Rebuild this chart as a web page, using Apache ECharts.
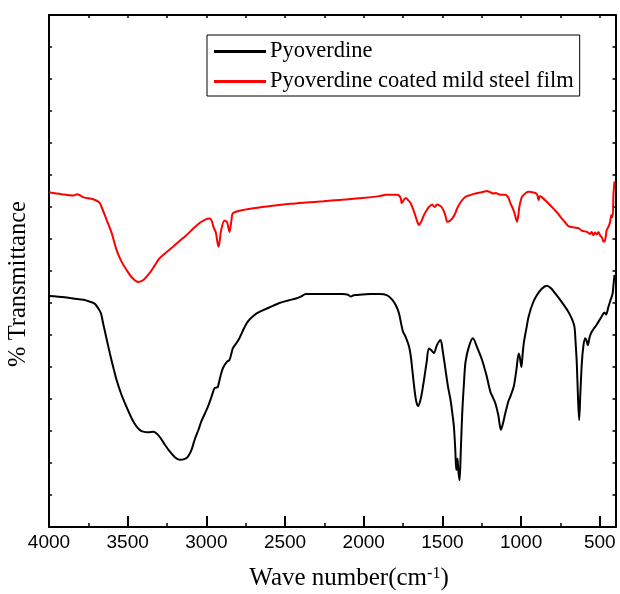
<!DOCTYPE html>
<html>
<head>
<meta charset="utf-8">
<script src="https://cdn.jsdelivr.net/npm/echarts@6/dist/echarts.min.js"></script>
<style>
  html, body { margin: 0; padding: 0; background: #fff; }
  #chart { width: 620px; height: 594px; }
</style>
</head>
<body>
<div id="chart"></div>
<script>
// FTIR spectra: wavenumber (cm-1) vs % transmittance (arbitrary offset units)
const seriesNames = ['Pyoverdine', 'Pyoverdine coated mild steel film'];

const waveBlack = [4000, 3900, 3846, 3780, 3740, 3710, 3688, 3670, 3656, 3635, 3613, 3590, 3571, 3540, 3508, 3475, 3444, 3420, 3402, 3370, 3339, 3320, 3297, 3265, 3233, 3200, 3170, 3140, 3117, 3095, 3075, 3050, 3032, 3010, 2990, 2968, 2948, 2935, 2927, 2910, 2895, 2870, 2853, 2840, 2832, 2810, 2790, 2760, 2737, 2700, 2663, 2600, 2536, 2480, 2431, 2400, 2367, 2300, 2219, 2135, 2100, 2082, 2065, 2050, 1960, 1902, 1850, 1818, 1795, 1776, 1760, 1750, 1735, 1712, 1700, 1691, 1675, 1665, 1653, 1640, 1630, 1617, 1600, 1586, 1570, 1554, 1535, 1512, 1498, 1480, 1465, 1448, 1437, 1427, 1418, 1412, 1408, 1404, 1398, 1391, 1383, 1374, 1363, 1353, 1330, 1306, 1280, 1248, 1220, 1195, 1180, 1163, 1145, 1128, 1115, 1100, 1080, 1068, 1047, 1030, 1015, 1008, 998, 990, 983, 965, 952, 925, 899, 870, 836, 810, 783, 740, 699, 675, 661, 654, 646, 638, 631, 624, 614, 604, 593, 585, 576, 565, 551, 520, 488, 470, 460, 445, 435, 424, 418, 413, 406];
const transBlack = [36.1, 35.9, 35.7, 35.5, 35.2, 34.9, 34.2, 33.4, 31.8, 29.5, 27.1, 24.8, 23.0, 20.7, 18.8, 17.0, 15.7, 15.1, 14.9, 14.8, 14.9, 14.7, 14.1, 12.9, 11.8, 10.9, 10.5, 10.6, 11.0, 12.0, 13.6, 15.2, 16.5, 17.7, 18.8, 20.3, 21.7, 21.8, 21.9, 23.6, 24.8, 25.8, 26.1, 27.2, 27.9, 28.7, 29.5, 31.1, 32.1, 33.0, 33.6, 34.3, 35.0, 35.4, 35.7, 36.0, 36.4, 36.4, 36.4, 36.4, 36.3, 36.0, 36.2, 36.25, 36.4, 36.4, 36.2, 35.5, 34.6, 33.4, 31.5, 30.5, 29.8, 28.2, 26.5, 24.5, 21.0, 19.5, 18.9, 19.8, 21.0, 23.0, 25.8, 27.9, 27.6, 27.2, 28.4, 29.2, 27.5, 24.5, 22.0, 19.8, 17.8, 15.7, 12.0, 8.9, 9.5, 10.7, 8.6, 7.3, 12.0, 17.8, 22.5, 25.8, 28.3, 29.5, 28.1, 26.1, 23.7, 21.1, 20.3, 19.3, 17.5, 15.2, 16.2, 17.8, 19.7, 20.4, 21.9, 24.5, 27.1, 26.5, 25.0, 27.0, 28.7, 31.2, 32.9, 35.0, 36.25, 37.2, 37.7, 37.3, 36.5, 35.1, 33.6, 32.4, 31.3, 29.0, 25.6, 20.0, 16.7, 20.5, 25.6, 28.3, 29.5, 29.2, 28.4, 29.6, 30.5, 31.6, 32.9, 33.5, 33.2, 34.4, 35.2, 36.0, 36.5, 37.8, 39.4];

const waveRed = [4000, 3920, 3846, 3820, 3780, 3719, 3680, 3666, 3634, 3600, 3571, 3540, 3508, 3470, 3434, 3400, 3360, 3330, 3297, 3250, 3212, 3170, 3127, 3085, 3043, 3010, 2980, 2965, 2955, 2940, 2923, 2905, 2885, 2868, 2853, 2840, 2832, 2790, 2700, 2579, 2467, 2367, 2256, 2156, 2008, 1900, 1860, 1786, 1765, 1759, 1745, 1733, 1715, 1702, 1685, 1670, 1655, 1649, 1635, 1617, 1600, 1586, 1565, 1555, 1548, 1535, 1522, 1505, 1490, 1478, 1470, 1455, 1438, 1420, 1406, 1380, 1353, 1320, 1290, 1250, 1216, 1195, 1174, 1160, 1142, 1120, 1100, 1080, 1068, 1055, 1041, 1033, 1026, 1018, 1011, 1002, 994, 970, 952, 930, 910, 897, 889, 880, 867, 840, 804, 770, 741, 720, 699, 660, 635, 614, 580, 560, 552, 540, 530, 519, 508, 497, 485, 477, 470, 462, 456, 445, 434, 426, 418, 413, 406];
const transRed = [52.3, 52.0, 51.8, 52.0, 51.5, 51.2, 50.7, 50.0, 48.0, 45.8, 43.3, 41.5, 40.2, 38.9, 38.3, 38.6, 39.7, 40.8, 42.0, 43.0, 43.8, 44.7, 45.6, 46.6, 47.5, 48.0, 48.2, 47.8, 46.9, 46.0, 43.8, 46.5, 47.9, 47.6, 46.1, 48.0, 49.0, 49.4, 49.8, 50.2, 50.5, 50.7, 50.9, 51.1, 51.4, 51.7, 51.9, 51.9, 51.4, 50.6, 51.1, 51.4, 51.0, 50.6, 49.6, 48.5, 47.4, 47.2, 47.7, 48.75, 49.5, 50.0, 50.4, 50.1, 50.0, 50.4, 50.3, 50.0, 49.3, 48.4, 47.7, 47.8, 48.2, 48.9, 49.8, 50.9, 51.6, 51.9, 52.1, 52.3, 52.5, 52.3, 52.1, 52.2, 52.0, 51.9, 51.9, 51.4, 50.6, 49.9, 49.0, 48.2, 47.7, 48.6, 50.0, 51.0, 51.6, 52.2, 52.4, 52.3, 52.2, 51.9, 51.1, 51.7, 51.5, 50.9, 50.0, 49.1, 48.2, 47.6, 47.0, 46.8, 46.7, 46.3, 46.1, 45.8, 46.1, 45.6, 46.0, 45.7, 46.1, 45.5, 45.2, 44.6, 44.6, 45.4, 46.4, 46.9, 47.7, 48.75, 48.4, 52.0, 54.0];

const majorTicks = [4000, 3500, 3000, 2500, 2000, 1500, 1000, 500];
const minorTicks = [3750, 3250, 2750, 2250, 1750, 1250, 750];
const allTicks = [4000, 3750, 3500, 3250, 3000, 2750, 2500, 2250, 2000, 1750, 1500, 1250, 1000, 750, 500];

const xTitle = 'Wave number(cm{sup|-1})';
const yTitle = '% Transmittance';

const pairs = (xs, ys) => xs.map((x, i) => [x, ys[i]]);

const chart = echarts.init(document.getElementById('chart'), null, { renderer: 'canvas' });

const axisLineStyle = { color: '#000', width: 2 };
const baseX = { type: 'value', min: 400, max: 4000, inverse: true, splitLine: { show: false } };
const baseY = {
  type: 'value', min: 0, max: 80, interval: 5,
  axisLine: { show: true, lineStyle: axisLineStyle },
  axisTick: { show: true, inside: true, length: 3, lineStyle: { color: '#000', width: 1.5 } },
  axisLabel: { show: false },
  splitLine: { show: false }
};

chart.setOption({
  animation: false,
  backgroundColor: '#fff',
  grid: { left: 49, right: 4.5, top: 15, bottom: 67, containLabel: false },
  legend: {
    data: seriesNames,
    orient: 'vertical',
    left: 207, top: 35,
    padding: [5, 6, 3, 7],
    itemGap: 7,
    itemWidth: 52,
    itemHeight: 3,
    icon: 'rect',
    borderColor: '#000',
    borderWidth: 1,
    textStyle: { fontFamily: 'Liberation Serif', fontSize: 22.5, color: '#000', padding: [0, 0, 0, -1] }
  },
  xAxis: [
    Object.assign({}, baseX, {
      position: 'bottom',
      axisLine: { show: true, onZero: false, lineStyle: axisLineStyle },
      axisTick: { show: true, inside: true, length: 11, customValues: majorTicks, lineStyle: { color: '#000', width: 2 } },
      axisLabel: {
        show: true, customValues: majorTicks, margin: 6,
        formatter: (v) => String(v),
        fontFamily: 'Liberation Sans', fontSize: 19, color: '#000'
      }
    }),
    Object.assign({}, baseX, {
      position: 'bottom',
      axisLine: { show: false, onZero: false },
      axisTick: { show: true, inside: true, length: 4, customValues: minorTicks, lineStyle: { color: '#000', width: 1.5 } },
      axisLabel: { show: false }
    }),
    Object.assign({}, baseX, {
      position: 'top',
      axisLine: { show: true, onZero: false, lineStyle: axisLineStyle },
      axisTick: { show: true, inside: true, length: 3, customValues: allTicks, lineStyle: { color: '#000', width: 1.5 } },
      axisLabel: { show: false }
    })
  ],
  yAxis: [
    Object.assign({}, baseY, { position: 'left' }),
    Object.assign({}, baseY, { position: 'right' })
  ],
  graphic: [
    {
      type: 'text',
      x: 349, y: 578,
      style: {
        text: xTitle,
        align: 'center',
        verticalAlign: 'middle',
        fontFamily: 'Liberation Serif',
        fontSize: 25,
        fill: '#000',
        rich: {
          sup: { fontFamily: 'Liberation Serif', fontSize: 16, verticalAlign: 'top', fill: '#000' }
        }
      }
    },
    {
      type: 'text',
      x: 19, y: 284,
      rotation: Math.PI / 2,
      style: {
        text: yTitle,
        align: 'center',
        verticalAlign: 'middle',
        fontFamily: 'Liberation Serif',
        fontSize: 24.5,
        fill: '#000'
      }
    }
  ],
  series: [
    {
      name: seriesNames[0], type: 'line', xAxisIndex: 0, yAxisIndex: 0,
      data: pairs(waveBlack, transBlack),
      showSymbol: false, symbol: 'none', smooth: 0.3,
      lineStyle: { color: '#000', width: 2 }, itemStyle: { color: '#000' }
    },
    {
      name: seriesNames[1], type: 'line', xAxisIndex: 0, yAxisIndex: 0,
      data: pairs(waveRed, transRed),
      showSymbol: false, symbol: 'none', smooth: 0.3,
      lineStyle: { color: '#ff0000', width: 2 }, itemStyle: { color: '#ff0000' }
    }
  ]
});
</script>
</body>
</html>
